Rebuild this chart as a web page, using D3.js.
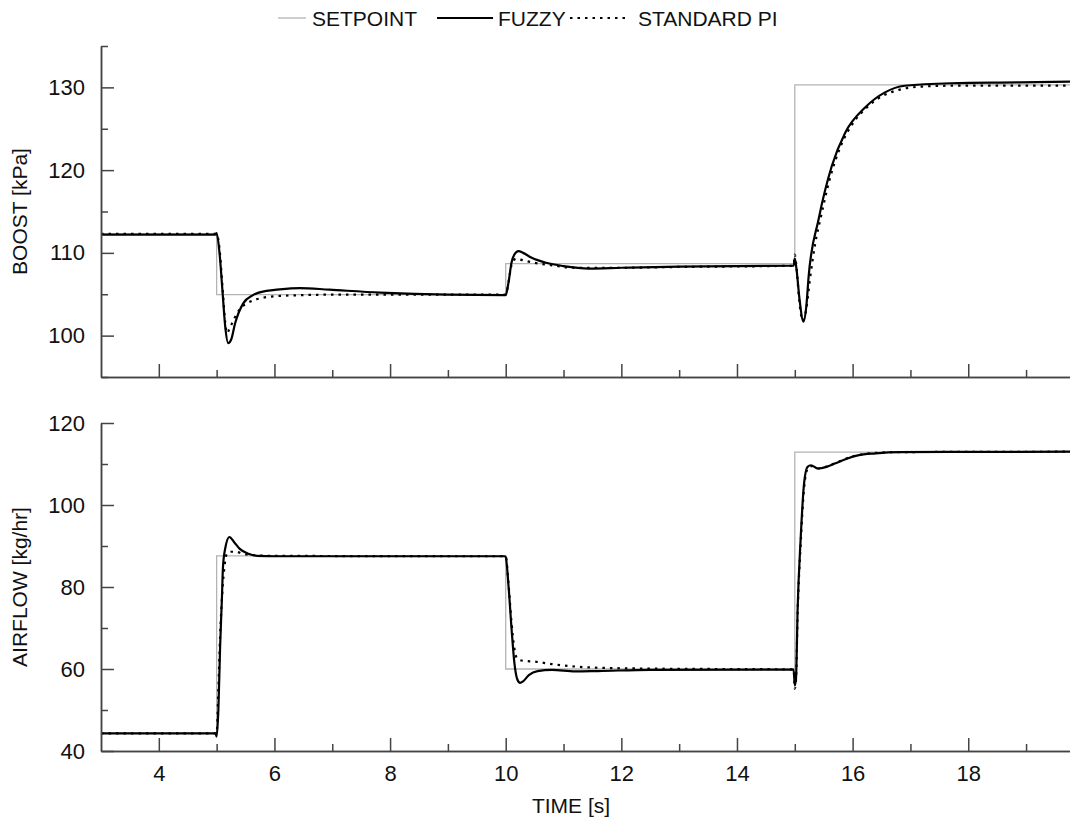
<!DOCTYPE html>
<html>
<head>
<meta charset="utf-8">
<script src="https://cdn.jsdelivr.net/npm/d3@7/dist/d3.min.js"></script>
<style>
	body { margin: 0; background: #fff; }
	text { font-family: "Liberation Sans", Arial, sans-serif; fill: #111; }
	.axis path, .axis line { stroke: #444; stroke-width: 1.5; }
	.axis text { font-size: 22px; }
</style>
</head>
<body>
<svg id="chart" width="1070" height="828"></svg>
<script>
/* Data */

var spTime = [3, 5, 10, 15, 19.76];
var boostSetpoint = [112.3, 104.95, 108.7, 130.3, 130.3];
var airSetpoint = [44.3, 87.6, 60, 112.9, 112.9];

var boostFuzzyTime = [3, 4.98, 5.0, 5.05, 5.1, 5.15, 5.2, 5.25, 5.32, 5.46, 5.63, 5.86, 6.09, 6.44, 6.95, 7.83, 9.0, 9.98,
	10.0, 10.05, 10.1, 10.15, 10.22, 10.3, 10.45, 10.7, 11.0, 11.44, 12.0, 13.0, 14.0, 14.98,
	15.0, 15.03, 15.08, 15.15, 15.2, 15.24, 15.41, 15.64, 15.87, 16.22, 16.56, 16.9, 17.7, 18.9, 19.76];
var boostFuzzy = [112.2, 112.2, 112.4, 110.0, 105.5, 101.0, 99.1, 99.5, 101.5, 103.9, 104.9, 105.4, 105.6, 105.75, 105.55, 105.2, 104.95, 104.9,
	104.9, 106.5, 108.8, 109.8, 110.2, 110.0, 109.4, 108.8, 108.4, 108.1, 108.2, 108.35, 108.4, 108.45,
	109.3, 108.0, 104.5, 101.7, 103.6, 107.2, 114.0, 120.5, 124.5, 127.6, 129.4, 130.2, 130.5, 130.6, 130.7];

var boostPITime = [3, 4.98, 5.0, 5.05, 5.1, 5.15, 5.18, 5.22, 5.3, 5.4, 5.55, 5.75, 6.0, 6.5, 7.0, 9.98,
	10.0, 10.05, 10.1, 10.18, 10.3, 10.5, 10.8, 11.2, 12.0, 13.0, 14.98,
	15.0, 15.03, 15.08, 15.14, 15.2, 15.26, 15.35, 15.45, 15.6, 15.8, 16.0, 16.25, 16.5, 16.8, 17.2, 17.7, 19.76];
var boostPI = [112.3, 112.3, 112.3, 110.5, 106.0, 101.5, 100.3, 100.8, 102.0, 103.2, 104.0, 104.5, 104.75, 104.9, 104.95, 104.95,
	104.95, 106.5, 108.5, 109.3, 109.1, 108.8, 108.5, 108.2, 108.2, 108.3, 108.45,
	109.8, 108.2, 104.0, 101.8, 103.3, 106.7, 111.0, 114.3, 118.8, 123.0, 125.6, 127.6, 128.9, 129.7, 130.1, 130.2, 130.2];

var airFuzzyTime = [3, 4.98, 5.0, 5.03, 5.06, 5.09, 5.11, 5.15, 5.22, 5.3, 5.4, 5.55, 5.7, 6.0, 9.98,
	10.0, 10.05, 10.1, 10.15, 10.2, 10.25, 10.3, 10.4, 10.55, 10.8, 11.2, 11.6, 12.5, 14.98,
	15.0, 15.02, 15.05, 15.1, 15.16, 15.22, 15.28, 15.4, 15.55, 15.69, 15.9, 16.09, 16.4, 16.8, 19.76];
var airFuzzy = [44.3, 44.3, 43.5, 50.0, 65.4, 76.7, 84.9, 89.5, 92.2, 91.0, 89.3, 88.1, 87.6, 87.5, 87.5,
	87.3, 80.0, 70.0, 61.5, 57.5, 56.6, 57.0, 58.5, 59.5, 59.8, 59.4, 59.5, 59.8, 59.85,
	56.0, 57.5, 75.1, 91.4, 105.2, 109.3, 109.7, 108.9, 109.3, 110.1, 111.3, 112.1, 112.6, 112.9, 113.0];

var airPITime = [3, 4.98, 5.0, 5.03, 5.06, 5.1, 5.14, 5.18, 5.25, 5.33, 5.45, 5.6, 6.0, 9.98,
	10.0, 10.05, 10.1, 10.15, 10.2, 10.3, 10.5, 10.8, 11.2, 11.6, 12.5, 14.98,
	15.0, 15.02, 15.05, 15.1, 15.16, 15.22, 15.28, 15.4, 15.55, 15.7, 15.9, 16.1, 16.4, 16.8, 19.76];
var airPI = [44.3, 44.3, 44.3, 55.0, 68.0, 79.0, 85.5, 88.2, 88.6, 88.6, 88.1, 87.8, 87.6, 87.5,
	87.5, 80.5, 71.5, 65.0, 62.5, 62.0, 61.8, 61.2, 60.6, 60.3, 60.1, 59.9,
	55.2, 57.0, 74.0, 90.0, 104.0, 108.8, 109.5, 108.9, 109.4, 110.2, 111.4, 112.2, 112.7, 112.9, 113.0];

var timeTicks = [4, 6, 8, 10, 12, 14, 16, 18];
var timeMinor = [5, 7, 9, 11, 13, 15, 17, 19];
var boostTicks = [100, 110, 120, 130];
var boostMinor = [95, 105, 115, 125, 135];
var airTicks = [40, 60, 80, 100, 120];
var airMinor = [50, 70, 90, 110];

var legendNames = ["SETPOINT", "FUZZY", "STANDARD PI"];

/* Layout */

var svg = d3.select("#chart");
var left = 101, right = 1070;

var x = d3.scaleLinear()
	.domain([3, 19.76])
	.range([left, right]);

var yBoost = d3.scaleLinear()
	.domain([95, 135])
	.range([377, 46]);

var yAir = d3.scaleLinear()
	.domain([40, 120])
	.range([751, 423]);

var styles = [
	{stroke: "#b4b4b4", width: 1.3, dash: null},
	{stroke: "#000", width: 2.2, dash: null},
	{stroke: "#000", width: 2.2, dash: "2.5,5"}
];

function drawPanel(y, ticks, minor, title, sp, fuzzyT, fuzzy, piT, pi, showLabels) {
	var g = svg.append("g");

	/* clip so lines stop at the plot edge */
	var id = "clip" + title.replace(/\W/g, "");
	svg.append("clipPath").attr("id", id)
		.append("rect")
		.attr("x", left).attr("y", y.range()[1] - 2)
		.attr("width", right - left).attr("height", y.range()[0] - y.range()[1] + 2);

	var lines = g.append("g").attr("clip-path", "url(#" + id + ")");

	var stepLine = d3.line()
		.curve(d3.curveStepAfter)
		.x(function(d, i){ return x(spTime[i]); })
		.y(function(d){ return y(d); });

	lines.append("path")
		.datum(sp)
		.attr("fill", "none")
		.attr("stroke", styles[0].stroke)
		.attr("stroke-width", styles[0].width)
		.attr("d", stepLine);

	var smooth = function(tt) {
		return d3.line()
			.curve(d3.curveMonotoneX)
			.x(function(d, i){ return x(tt[i]); })
			.y(function(d){ return y(d); });
	};

	lines.append("path")
		.datum(pi)
		.attr("fill", "none")
		.attr("stroke", styles[2].stroke)
		.attr("stroke-width", styles[2].width)
		.attr("stroke-dasharray", styles[2].dash)
		.attr("d", smooth(piT));

	lines.append("path")
		.datum(fuzzy)
		.attr("fill", "none")
		.attr("stroke", styles[1].stroke)
		.attr("stroke-width", styles[1].width)
		.attr("stroke-linejoin", "round")
		.attr("d", smooth(fuzzyT));

	/* Axes, ticks pointing inward */
	g.append("g")
		.attr("class", "axis")
		.attr("transform", "translate(" + left + ",0)")
		.call(d3.axisLeft(y).tickValues(minor).tickSize(-7).tickSizeOuter(0).tickFormat(""));

	g.append("g")
		.attr("class", "axis")
		.attr("transform", "translate(" + left + ",0)")
		.call(d3.axisLeft(y).tickValues(ticks).tickSize(-13).tickSizeOuter(0).tickPadding(16));

	g.append("g")
		.attr("class", "axis")
		.attr("transform", "translate(0," + y.range()[0] + ")")
		.call(d3.axisBottom(x).tickValues(timeMinor).tickSize(-7).tickSizeOuter(0).tickFormat(""));

	g.append("g")
		.attr("class", "axis")
		.attr("transform", "translate(0," + y.range()[0] + ")")
		.call(d3.axisBottom(x).tickValues(timeTicks).tickSize(-13).tickSizeOuter(0).tickPadding(14)
			.tickFormat(showLabels ? d3.format("d") : ""));

	g.selectAll(".domain").attr("stroke", "#444");

	g.append("text")
		.attr("transform", "translate(20," + (y.range()[0] + y.range()[1]) / 2 + ") rotate(-90)")
		.attr("text-anchor", "middle")
		.attr("dy", "0.35em")
		.style("font-size", "21px")
		.text(title);
}

drawPanel(yBoost, boostTicks, boostMinor, "BOOST [kPa]", boostSetpoint,
	boostFuzzyTime, boostFuzzy, boostPITime, boostPI, false);
drawPanel(yAir, airTicks, airMinor, "AIRFLOW [kg/hr]", airSetpoint,
	airFuzzyTime, airFuzzy, airPITime, airPI, true);

svg.append("text")
	.attr("x", 571)
	.attr("y", 806)
	.attr("text-anchor", "middle")
	.attr("dy", "0.35em")
	.style("font-size", "21px")
	.text("TIME [s]");

/* Legend */

var legendX = [278, 437, 570];
var legendW = [28, 56, 59];
var legendGap = [6, 5, 9];
var legend = svg.append("g").attr("transform", "translate(0,18)");

legendNames.forEach(function(name, i) {
	legend.append("line")
		.attr("x1", legendX[i])
		.attr("x2", legendX[i] + legendW[i])
		.attr("stroke", styles[i].stroke)
		.attr("stroke-width", styles[i].width)
		.attr("stroke-dasharray", styles[i].dash);
	legend.append("text")
		.attr("x", legendX[i] + legendW[i] + legendGap[i])
		.attr("dy", "0.36em")
		.style("font-size", "21px")
		.text(name);
});
</script>
</body>
</html>
